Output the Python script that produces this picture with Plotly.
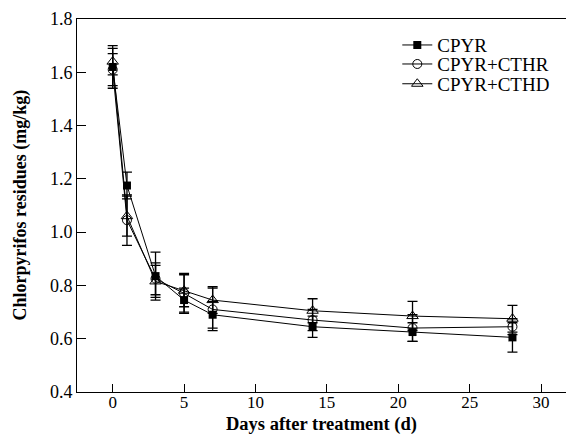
import plotly.graph_objects as go

days = [0, 1, 3, 5, 7, 14, 21, 28]
cpyr = [1.62, 1.175, 0.835, 0.745, 0.69, 0.645, 0.625, 0.605]
cpyr_err = [0.08, 0.05, 0.09, 0.045, 0.05, 0.04, 0.035, 0.055]
cthr = [1.61, 1.045, 0.825, 0.77, 0.71, 0.67, 0.64, 0.645]
cthr_err = [0.06, 0.095, 0.06, 0.075, 0.08, 0.04, 0.05, 0.03]
cthd = [1.64, 1.06, 0.815, 0.78, 0.745, 0.705, 0.685, 0.675]
cthd_err = [0.05, 0.075, 0.06, 0.06, 0.05, 0.045, 0.055, 0.05]
names = ["CPYR", "CPYR+CTHR", "CPYR+CTHD"]
x_ticks = [0, 5, 10, 15, 20, 25, 30]
y_ticks = [0.4, 0.6, 0.8, 1.0, 1.2, 1.4, 1.6, 1.8]
y_ticktext = ["0.4", "0.6", "0.8", "1.0", "1.2", "1.4", "1.6", "1.8"]

font_family = "Liberation Serif, Times New Roman, serif"

fig = go.Figure()
series = [
    (cpyr, cpyr_err, names[0], dict(symbol="square", color="black", size=8), "legend"),
    (cthr, cthr_err, names[1], dict(symbol="circle-open", color="black", size=9, line=dict(width=1)), "legend2"),
    (cthd, cthd_err, names[2], dict(symbol="triangle-up-open", color="black", size=10, line=dict(width=1)), "legend3"),
]
for vals, errs, name, marker, lg in series:
    fig.add_trace(go.Scatter(
        x=days, y=vals, name=name, mode="lines+markers",
        line=dict(color="black", width=1),
        marker=marker, legend=lg,
        error_y=dict(type="data", array=errs, visible=True, color="black", thickness=1.3, width=5),
    ))

legend_style = dict(x=0.655, xanchor="left", yanchor="middle", bgcolor="rgba(0,0,0,0)",
                    font=dict(size=19, family=font_family), itemwidth=30)

fig.update_layout(
    width=566, height=436,
    margin=dict(l=77, r=0, t=19, b=44, autoexpand=False),
    plot_bgcolor="white", paper_bgcolor="white",
    font=dict(family=font_family, size=18, color="black"),
    showlegend=True,
    legend=dict(y=0.930, **legend_style),
    legend2=dict(y=0.879, **legend_style),
    legend3=dict(y=0.826, **legend_style),
    xaxis=dict(
        range=[-2.5, 31.75], tickvals=x_ticks,
        ticks="inside", ticklen=8, tickcolor="black", tickwidth=1,
        showline=True, linecolor="black", linewidth=1, mirror=True,
        showgrid=False, zeroline=False, automargin=False,
        tickfont=dict(size=17), ticklabelstandoff=-5,
    ),
    yaxis=dict(
        range=[0.4, 1.8], tickvals=y_ticks, ticktext=y_ticktext,
        ticks="inside", ticklen=9, tickcolor="black", tickwidth=1,
        showline=True, linecolor="black", linewidth=1, mirror=False,
        showgrid=False, zeroline=False, automargin=False,
        tickfont=dict(size=18),
    ),
    annotations=[
        dict(text="<b>Days after treatment (d)</b>", xref="paper", yref="paper",
             x=0.5, y=0, xanchor="center", yanchor="top", yshift=-20,
             showarrow=False, font=dict(size=18.5)),
        dict(text="<b>Chlorpyrifos residues (mg/kg)</b>", xref="paper", yref="paper",
             x=0, y=0.5, xanchor="center", yanchor="middle", xshift=-57,
             textangle=-90, showarrow=False, font=dict(size=18)),
    ],
)

fig.write_html(
    "out.html",
    config={"displayModeBar": False},
    post_script="document.body.style.margin='0';document.body.style.overflow='hidden';",
)
